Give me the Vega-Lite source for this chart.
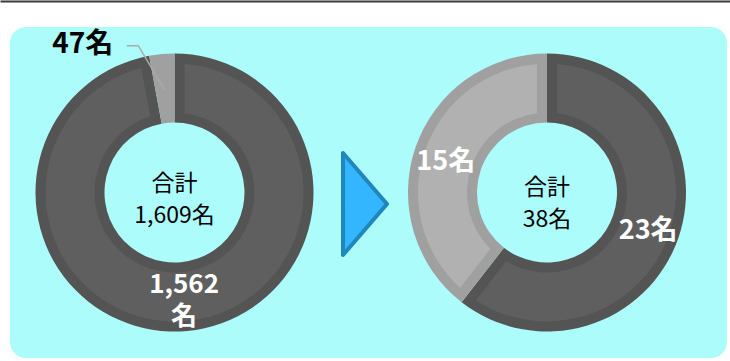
{
  "$schema": "https://vega.github.io/schema/vega-lite/v6.json",
  "width": 717,
  "height": 331,
  "autosize": {"type": "none"},
  "padding": {"left": 10, "top": 27, "right": 3, "bottom": 3},
  "background": "#FFFFFF",
  "config": {
    "view": {"fill": "#ADFCFC", "stroke": null, "cornerRadius": 16},
    "axisX": {"labels": false, "ticks": false, "grid": false, "domainColor": "#3A3A3A", "domainWidth": 2, "offset": 26, "domainCap": "butt"},
    "text": {"font": "Noto Sans CJK JP"}
  },
  "datasets": {
    "counts": [
      {"panel": "before", "group": "dark", "count": 1562, "label": "1,562\n名"},
      {"panel": "before", "group": "light", "count": 47, "label": "47名"},
      {"panel": "after", "group": "dark", "count": 23, "label": "23名"},
      {"panel": "after", "group": "light", "count": 15, "label": "15名"}
    ],
    "totals": [
      {"panel": "before", "label": "合計\n1,609名"},
      {"panel": "after", "label": "合計\n38名"}
    ],
    "transition": [{"panel": "arrow"}]
  },
  "layer": [
    {
      "data": {"name": "counts"},
      "transform": [{"filter": "datum.panel == 'before'"}],
      "layer": [
        {
          "mark": {"type": "arc", "radius": 139, "radius2": 70},
          "encoding": {
            "x": {"field": "panel", "type": "nominal", "title": null, "axis": {"orient": "top"},
                  "scale": {"type": "point", "domain": ["before", "arrow", "after"], "range": [-10, 720], "padding": 0.9597, "align": 0.4881}},
            "theta": {"field": "count", "type": "quantitative", "stack": "normalize"},
            "order": {"field": "count", "type": "quantitative", "sort": "descending"},
            "detail": {"field": "group", "type": "nominal"},
            "color": {"condition": {"test": "datum.group == 'dark'", "value": "#545454"}, "value": "#A0A0A0"}
          }
        },
        {
          "mark": {"type": "arc", "radius": 129, "radius2": 80, "padAngle": 0.132},
          "encoding": {
            "x": {"field": "panel", "type": "nominal", "title": null, "axis": {"orient": "top"}},
            "theta": {"field": "count", "type": "quantitative", "stack": "normalize"},
            "order": {"field": "count", "type": "quantitative", "sort": "descending"},
            "detail": {"field": "group", "type": "nominal"},
            "color": {"condition": {"test": "datum.group == 'dark'", "value": "#5F5F5F"}, "value": "#A0A0A0"}
          }
        },
        {
          "transform": [{"filter": "datum.count < 100"}],
          "mark": {"type": "point", "shape": "M-0.478,-1.468L-0.362,-1.468L-0.102,-1.032", "size": 40000, "filled": false, "strokeWidth": 1.5, "color": "#ABABAB", "opacity": 1},
          "encoding": {
            "x": {"field": "panel", "type": "nominal", "title": null, "axis": {"orient": "top"}}
          }
        },
        {
          "mark": {"type": "text", "radius": 105, "fontSize": 26, "fontWeight": "bold", "color": "#FFFFFF", "lineBreak": "\n", "lineHeight": 32, "dy": -12},
          "encoding": {
            "x": {"field": "panel", "type": "nominal", "title": null, "axis": {"orient": "top"}},
            "theta": {"field": "count", "type": "quantitative", "stack": "normalize"},
            "order": {"field": "count", "type": "quantitative", "sort": "descending"},
            "detail": {"field": "group", "type": "nominal"},
            "text": {"condition": {"test": "datum.count >= 100", "field": "label"}, "value": ""}
          }
        },
        {
          "mark": {"type": "text", "radius": 150, "fontSize": 28, "fontWeight": "bold", "color": "#000000", "dx": -78, "dy": 2},
          "encoding": {
            "x": {"field": "panel", "type": "nominal", "title": null, "axis": {"orient": "top"}},
            "theta": {"field": "count", "type": "quantitative", "stack": "normalize"},
            "order": {"field": "count", "type": "quantitative", "sort": "descending"},
            "detail": {"field": "group", "type": "nominal"},
            "text": {"condition": {"test": "datum.count < 100", "field": "label"}, "value": ""}
          }
        }
      ]
    },
    {
      "data": {"name": "counts"},
      "transform": [{"filter": "datum.panel == 'after'"}],
      "layer": [
        {
          "mark": {"type": "arc", "radius": 139, "radius2": 70},
          "encoding": {
            "x": {"field": "panel", "type": "nominal", "title": null, "axis": {"orient": "top"}},
            "theta": {"field": "count", "type": "quantitative", "stack": "normalize"},
            "order": {"field": "count", "type": "quantitative", "sort": "descending"},
            "detail": {"field": "group", "type": "nominal"},
            "color": {"condition": {"test": "datum.group == 'dark'", "value": "#545454"}, "value": "#A0A0A0"}
          }
        },
        {
          "mark": {"type": "arc", "radius": 129, "radius2": 80, "padAngle": 0.132},
          "encoding": {
            "x": {"field": "panel", "type": "nominal", "title": null, "axis": {"orient": "top"}},
            "theta": {"field": "count", "type": "quantitative", "stack": "normalize"},
            "order": {"field": "count", "type": "quantitative", "sort": "descending"},
            "detail": {"field": "group", "type": "nominal"},
            "color": {"condition": {"test": "datum.group == 'dark'", "value": "#5F5F5F"}, "value": "#B1B1B1"}
          }
        },
        {
          "mark": {"type": "text", "radius": 107, "fontSize": 27, "fontWeight": "bold", "color": "#FFFFFF", "dy": 4},
          "encoding": {
            "x": {"field": "panel", "type": "nominal", "title": null, "axis": {"orient": "top"}},
            "theta": {"field": "count", "type": "quantitative", "stack": "normalize"},
            "order": {"field": "count", "type": "quantitative", "sort": "descending"},
            "detail": {"field": "group", "type": "nominal"},
            "text": {"field": "label", "type": "nominal"}
          }
        }
      ]
    },
    {
      "data": {"name": "transition"},
      "mark": {"type": "point", "shape": "M-0.355,-0.79L0.525,0.23L-0.355,1.25Z", "size": 10000, "filled": true, "fill": "#33B6FE", "stroke": "#1F86BE", "strokeWidth": 4, "strokeJoin": "round", "opacity": 1},
      "encoding": {
        "x": {"field": "panel", "type": "nominal", "title": null, "axis": {"orient": "top"}}
      }
    },
    {
      "data": {"name": "totals"},
      "transform": [{"filter": "datum.panel == 'before'"}],
      "mark": {"type": "text", "fontSize": 23, "lineBreak": "\n", "lineHeight": 32, "dy": -9, "color": "#000000"},
      "encoding": {
        "x": {"field": "panel", "type": "nominal", "title": null, "axis": {"orient": "top"}},
        "text": {"field": "label", "type": "nominal"}
      }
    },
    {
      "data": {"name": "totals"},
      "transform": [{"filter": "datum.panel == 'after'"}],
      "mark": {"type": "text", "fontSize": 23, "lineBreak": "\n", "lineHeight": 32, "dy": -5, "color": "#000000"},
      "encoding": {
        "x": {"field": "panel", "type": "nominal", "title": null, "axis": {"orient": "top"}},
        "text": {"field": "label", "type": "nominal"}
      }
    }
  ]
}
